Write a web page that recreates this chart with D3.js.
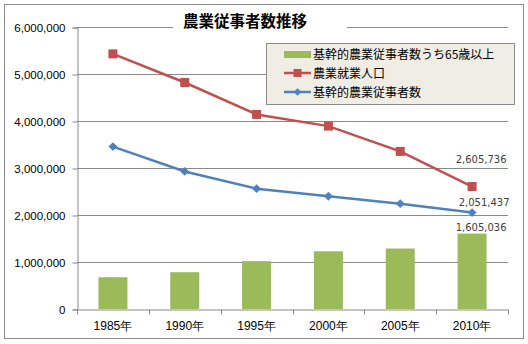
<!DOCTYPE html>
<html>
<head>
<meta charset="utf-8">
<script src="https://cdn.jsdelivr.net/npm/d3@7/dist/d3.min.js"></script>
<style>
  html, body { margin: 0; padding: 0; background: #fff; }
  svg { display: block; font-family: "Noto Sans CJK JP", "Noto Sans", sans-serif; }
</style>
</head>
<body>
<svg id="chart" width="528" height="344"></svg>
<script>
// 農業従事者数の推移（人）
const years = ["1985年", "1990年", "1995年", "2000年", "2005年", "2010年"];
const elderlyCore = [676000, 783000, 1018000, 1228000, 1287000, 1605036];   // 基幹的農業従事者数うち65歳以上
const farmWorkers = [5428000, 4819000, 4140000, 3891000, 3353000, 2605736]; // 農業就業人口
const coreWorkers = [3455000, 2927000, 2560000, 2400000, 2241000, 2051437]; // 基幹的農業従事者数
const yTicks = [0, 1000000, 2000000, 3000000, 4000000, 5000000, 6000000];
const seriesNames = ["基幹的農業従事者数うち65歳以上", "農業就業人口", "基幹的農業従事者数"];
const title = "農業従事者数推移";

const colors = { bar: "#9BBB59", red: "#C0504D", blue: "#4F81BD" };
const svg = d3.select("#chart");
const plot = { left: 77, right: 508, top: 27, bottom: 309 };

// outer frame
svg.append("rect").attr("x", 4.5).attr("y", 4.5).attr("width", 519).attr("height", 334)
  .attr("fill", "#fff").attr("stroke", "#8c8c8c").attr("stroke-width", 1);

const x = d3.scaleBand().domain(years).range([plot.left, plot.right]).paddingInner(0).paddingOuter(0);
const y = d3.scaleLinear().domain([0, 6000000]).range([plot.bottom, plot.top]);

// gridlines
svg.append("g").selectAll("line").data(yTicks.slice(1)).join("line")
  .attr("x1", plot.left).attr("x2", plot.right)
  .attr("y1", d => Math.round(y(d)) + 0.5).attr("y2", d => Math.round(y(d)) + 0.5)
  .attr("stroke", "#8a8a8a").attr("stroke-width", 1);

// y axis
const yAxis = d3.axisLeft(y).tickValues(yTicks).tickSize(5).tickPadding(7).tickFormat(d3.format(","));
const yg = svg.append("g").attr("transform", `translate(${plot.left + 0.5},0.5)`).call(yAxis);
yg.selectAll("path, line").attr("stroke", "#8a8a8a");
yg.selectAll("text").attr("font-size", 11.5).attr("fill", "#000")
  .attr("font-family", "'Liberation Sans', Arial, sans-serif");

// bars
const barW = 29;
svg.append("g").selectAll("rect").data(elderlyCore).join("rect")
  .attr("x", (d, i) => x(years[i]) + x.bandwidth() / 2 - barW / 2)
  .attr("width", barW)
  .attr("y", d => y(d))
  .attr("height", d => y(0) - y(d))
  .attr("fill", colors.bar);

// x axis
const xAxis = d3.axisBottom(x).tickSize(0).tickPadding(12);
const xg = svg.append("g").attr("transform", `translate(0,${plot.bottom + 0.5})`).call(xAxis);
xg.select("path").attr("stroke", "#8a8a8a");
xg.selectAll("text").attr("font-size", 12).attr("fill", "#000");
// category boundary ticks
const bounds = years.map(d => x(d)).concat([plot.right]);
xg.selectAll("line.bound").data(bounds).join("line").attr("class", "bound")
  .attr("x1", d => Math.round(d) + 0.5).attr("x2", d => Math.round(d) + 0.5)
  .attr("y1", 0).attr("y2", 5).attr("stroke", "#8a8a8a");

const cx = i => x(years[i]) + x.bandwidth() / 2;
const line = d3.line().x((d, i) => cx(i)).y(d => y(d));

// 農業就業人口
svg.append("path").datum(farmWorkers).attr("d", line)
  .attr("fill", "none").attr("stroke", colors.red).attr("stroke-width", 2.5);
svg.append("g").selectAll("rect").data(farmWorkers).join("rect")
  .attr("x", (d, i) => cx(i) - 4.5).attr("y", d => y(d) - 4.5)
  .attr("width", 9).attr("height", 9).attr("fill", colors.red);

// 基幹的農業従事者数
svg.append("path").datum(coreWorkers).attr("d", line)
  .attr("fill", "none").attr("stroke", colors.blue).attr("stroke-width", 2.5);
svg.append("g").selectAll("path").data(coreWorkers).join("path")
  .attr("d", d3.symbol(d3.symbolDiamond2, 50))
  .attr("transform", (d, i) => `translate(${cx(i)},${y(d)})`)
  .attr("fill", colors.blue);

// value labels for 2010
const last = years.length - 1;
const lab = svg.append("g").attr("font-size", 10).attr("fill", "#404040")
  .attr("font-family", "'DejaVu Sans', sans-serif").attr("text-anchor", "middle");
lab.append("text").attr("x", cx(last) + 9).attr("y", y(farmWorkers[last]) - 24).text(d3.format(",")(farmWorkers[last]));
lab.append("text").attr("x", cx(last) + 12).attr("y", y(coreWorkers[last]) - 7).text(d3.format(",")(coreWorkers[last]));
lab.append("text").attr("x", cx(last) + 9).attr("y", y(elderlyCore[last]) - 3).text(d3.format(",")(elderlyCore[last]));

// title
svg.append("rect").attr("x", 173).attr("y", 10).attr("width", 174).attr("height", 26).attr("fill", "#fff");
svg.append("text").attr("x", 245).attr("y", 27).attr("text-anchor", "middle")
  .attr("font-size", 15.5).attr("font-weight", "bold").attr("fill", "#000").text(title);

// legend
const lg = svg.append("g");
lg.append("rect").attr("x", 266.5).attr("y", 43.5).attr("width", 248).attr("height", 61)
  .attr("fill", "#EFEDE4").attr("stroke", "#8a8a8a");
const rowsY = [54, 73, 92];
lg.append("rect").attr("x", 284).attr("y", rowsY[0] - 3).attr("width", 27).attr("height", 7).attr("fill", colors.bar);
lg.append("line").attr("x1", 284).attr("x2", 311).attr("y1", rowsY[1]).attr("y2", rowsY[1])
  .attr("stroke", colors.red).attr("stroke-width", 2.5);
lg.append("rect").attr("x", 293.5).attr("y", rowsY[1] - 4).attr("width", 8).attr("height", 8).attr("fill", colors.red);
lg.append("line").attr("x1", 284).attr("x2", 311).attr("y1", rowsY[2]).attr("y2", rowsY[2])
  .attr("stroke", colors.blue).attr("stroke-width", 2.5);
lg.append("path").attr("d", d3.symbol(d3.symbolDiamond2, 36)).attr("transform", `translate(297.5,${rowsY[2]})`)
  .attr("fill", colors.blue);
lg.selectAll("text").data(seriesNames).join("text")
  .attr("x", 313).attr("y", (d, i) => rowsY[i] + 4.5)
  .attr("font-size", 12).attr("fill", "#000").text(d => d);
</script>
</body>
</html>
